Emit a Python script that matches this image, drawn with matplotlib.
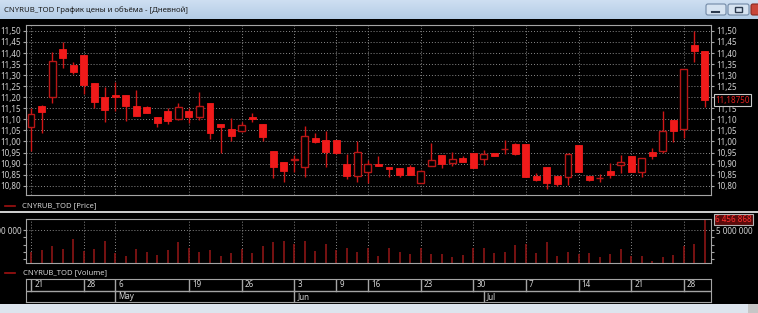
import matplotlib.pyplot as plt
import matplotlib.transforms as mtransforms
import numpy as np
from matplotlib.colors import LinearSegmentedColormap
from matplotlib.patches import FancyBboxPatch, Rectangle
from matplotlib.ticker import FixedLocator, FuncFormatter, MultipleLocator

plt.rcParams['font.family'] = ['Noto Sans', 'DejaVu Sans']

# дневные свечи CNYRUB_TOD
open_ = [11.067, 11.159, 11.200, 11.417, 11.346, 11.393, 11.265, 11.200, 11.209, 11.209,
         11.161, 11.155, 11.111, 11.140, 11.103, 11.140, 11.112, 11.173, 11.078, 11.058,
         11.049, 11.112, 11.078, 10.957, 10.909, 10.916, 10.886, 11.014, 11.007, 11.007,
         10.898, 10.845, 10.860, 10.897, 10.886, 10.879, 10.886, 10.814, 10.891, 10.939,
         10.904, 10.927, 10.949, 10.919, 10.946, 10.964, 10.989, 10.989, 10.844, 10.883,
         10.845, 10.841, 10.983, 10.845, 10.834, 10.867, 10.894, 10.934, 10.864, 10.953,
         10.959, 11.097, 11.057, 11.437, 11.411]
high = [11.150, 11.165, 11.406, 11.452, 11.358, 11.393, 11.265, 11.248, 11.268, 11.209,
        11.233, 11.161, 11.111, 11.150, 11.176, 11.150, 11.226, 11.173, 11.078, 11.105,
        11.088, 11.127, 11.078, 10.957, 10.909, 10.939, 11.070, 11.040, 11.047, 11.007,
        10.942, 11.004, 10.916, 10.934, 10.886, 10.879, 10.892, 10.871, 10.995, 10.939,
        10.951, 10.934, 10.949, 10.961, 10.949, 11.007, 10.992, 10.989, 10.856, 10.883,
        10.845, 10.946, 10.983, 10.845, 10.853, 10.901, 10.939, 10.934, 10.927, 10.969,
        11.138, 11.097, 11.327, 11.500, 11.411]
low = [10.955, 11.040, 11.173, 11.331, 11.304, 11.215, 11.153, 11.087, 11.136, 11.094,
       11.115, 11.127, 11.067, 11.079, 11.097, 11.085, 11.097, 11.013, 10.946, 11.000,
       11.041, 11.088, 11.000, 10.836, 10.818, 10.864, 10.841, 10.992, 10.886, 10.942,
       10.829, 10.818, 10.811, 10.891, 10.841, 10.838, 10.848, 10.811, 10.891, 10.879,
       10.891, 10.906, 10.879, 10.894, 10.934, 10.943, 10.939, 10.841, 10.823, 10.784,
       10.799, 10.803, 10.862, 10.821, 10.818, 10.833, 10.856, 10.864, 10.838, 10.919,
       10.950, 10.999, 11.014, 11.361, 11.155]
close = [11.123, 11.135, 11.366, 11.379, 11.316, 11.256, 11.179, 11.143, 11.200, 11.159,
         11.115, 11.130, 11.085, 11.094, 11.158, 11.112, 11.161, 11.037, 11.064, 11.025,
         11.073, 11.102, 11.022, 10.886, 10.868, 10.922, 11.026, 10.999, 10.954, 10.946,
         10.845, 10.954, 10.898, 10.891, 10.877, 10.848, 10.848, 10.868, 10.916, 10.898,
         10.919, 10.906, 10.879, 10.942, 10.934, 10.966, 10.942, 10.841, 10.826, 10.814,
         10.808, 10.944, 10.862, 10.824, 10.836, 10.848, 10.909, 10.864, 10.927, 10.936,
         11.049, 11.049, 11.327, 11.411, 11.1875]
volume = [1.95e6, 2.26e6, 2.81e6, 2.36e6, 3.77e6, 2.16e6, 2.44e6, 3.53e6, 1.81e6, 1.48e6,
          2.44e6, 2.03e6, 1.58e6, 2.26e6, 3.36e6, 2.49e6, 2.03e6, 2.22e6, 1.44e6, 1.85e6,
          2.44e6, 1.89e6, 2.85e6, 3.40e6, 3.45e6, 3.04e6, 3.45e6, 2.16e6, 3.08e6, 2.22e6,
          2.53e6, 1.99e6, 2.49e6, 1.48e6, 2.58e6, 1.99e6, 1.67e6, 2.53e6, 1.67e6, 1.67e6,
          1.34e6, 1.62e6, 2.49e6, 2.58e6, 1.85e6, 1.99e6, 2.95e6, 3.04e6, 1.85e6, 3.36e6,
          1.44e6, 2.03e6, 1.67e6, 1.85e6, 1.26e6, 1.71e6, 2.44e6, 1.44e6, 1.44e6, 0.79e6,
          1.30e6, 1.58e6, 2.81e6, 3.12e6, 6456868]

day_pos = [0, 5, 8, 15, 20, 25, 29, 32, 37, 42, 47, 52, 57, 62]
day_lbl = ['21', '28', '6', '19', '26', '3', '9', '16', '23', '30', '7', '14', '21', '28']
month_pos = [8, 25, 43]
month_lbl = ['May', 'Jun', 'Jul']

W, H = 758, 313
GRID = '#8a8a8a'
FRAME = '#a4a4a4'
TXT = '#d2d2d2'


def box(l, t, r, b):
    return [l / W, 1 - b / H, (r - l) / W, (b - t) / H]


def comma(v, p):
    return f"{v:.2f}".replace('.', ',')


def spaced(v, p):
    return f"{int(round(v)):,}".replace(',', ' ')


fig = plt.figure(figsize=(W / 100, H / 100), dpi=100, facecolor='black')

# окно: заголовок, кнопки, нижняя полоса
bg = fig.add_axes([0, 0, 1, 1], zorder=-1)
bg.set_xlim(0, W)
bg.set_ylim(H, 0)
bg.axis('off')
cmap = LinearSegmentedColormap.from_list('title', ['#cfe0f2', '#b4cce6'])
bg.imshow(np.linspace(0, 1, 20).reshape(-1, 1), extent=(0, W, 19.5, 0), aspect='auto', cmap=cmap)
bg.text(4, 10, 'CNYRUB_TOD График цены и объёма - [Дневной]', fontsize=5.6, va='center', color='#1c1c1c')
for bx, bw in [(706, 20), (728, 21)]:
    bg.add_patch(FancyBboxPatch((bx, 4), bw, 11, boxstyle='round,pad=0,rounding_size=2',
                                fc='#d6e3f1', ec='#7189a6', lw=0.8))
bg.plot([712, 719], [11.5, 11.5], color='#2b3a4e', lw=1.5)
bg.add_patch(Rectangle((735, 7), 7, 5, fc='none', ec='#2b3a4e', lw=1))
bg.add_patch(FancyBboxPatch((751, 4), 12, 11, boxstyle='round,pad=0,rounding_size=2',
                            fc='#c8463a', ec='#8a2a22', lw=0.8))
bg.add_patch(Rectangle((0, 304), W, 9, fc='#dde5ee', ec='none'))
bg.add_patch(Rectangle((748, 304), 10, 9, fc='#c6c6c6', ec='none'))
bg.plot([0, W], [211.7, 211.7], color='#e2e2e2', lw=1.3)
bg.plot([5, 15], [206, 206], color='#a01212', lw=1.2)
bg.text(22, 206, 'CNYRUB_TOD [Price]', fontsize=5.5, va='center', color=TXT)
bg.plot([5, 15], [272.5, 272.5], color='#a01212', lw=1.2)
bg.text(23, 272.5, 'CNYRUB_TOD [Volume]', fontsize=5.5, va='center', color=TXT)

x = np.arange(len(close))
o = np.array(open_)
c = np.array(close)
up = c >= o
body_lo = np.minimum(o, c)
body_h = np.maximum(np.abs(c - o), 0.002)
xlim = (-0.475, 64.58)

# цена
ax = fig.add_axes(box(26, 24.5, 711, 195))
ax.set_facecolor('black')
ax.vlines(x, low, high, color='#d01616', lw=1, zorder=2)
ax.bar(x[~up], body_h[~up], bottom=body_lo[~up], width=0.66, color='#f01a1a',
       edgecolor='#f01a1a', lw=0.6, zorder=3)
ax.bar(x[up], body_h[up], bottom=body_lo[up], width=0.66, color='black',
       edgecolor='#b81616', lw=1, zorder=3)
ax.set_xlim(*xlim)
ax.set_ylim(10.758, 11.529)
ax.yaxis.set_major_locator(MultipleLocator(0.05))
ax.yaxis.set_major_formatter(FuncFormatter(comma))
ax.set_xticks(day_pos)
ax.tick_params(axis='x', length=0, labelbottom=False)
ax.tick_params(axis='y', left=True, right=True, labelleft=True, labelright=True, direction='out',
               length=2.5, width=0.8, color=FRAME, labelcolor=TXT, labelsize=5.8, pad=1)
ax.grid(True, color=GRID, ls=(0, (1, 2)), lw=0.7)
ax.set_axisbelow(True)
for s in ax.spines.values():
    s.set_color(FRAME)
trans = mtransforms.blended_transform_factory(ax.transAxes, ax.transData)
ax.text(1.006, close[-1], f"{close[-1]:.5f}".replace('.', ','), transform=trans, fontsize=5.8,
        va='center', color='#e42020', zorder=10, clip_on=False,
        bbox=dict(boxstyle='square,pad=0.15', fc='black', ec='#c8c8c8', lw=0.8))

# объём
vx = fig.add_axes(box(26, 219, 711, 262.7))
vx.set_facecolor('black')
vx.vlines(x, 0, volume, color='#8c1515', lw=1.2)
vx.set_xlim(*xlim)
vx.set_ylim(0.52e6, 6.51e6)
vx.yaxis.set_major_locator(FixedLocator([5e6]))
vx.yaxis.set_minor_locator(FixedLocator([1e6, 2e6, 3e6, 4e6]))
vx.yaxis.set_major_formatter(FuncFormatter(spaced))
vx.set_xticks(day_pos)
vx.tick_params(axis='x', length=0, labelbottom=False)
vx.tick_params(axis='y', which='both', left=True, right=True, labelleft=True, labelright=True,
               direction='out', length=2.5, width=0.8, color=FRAME, labelcolor=TXT, labelsize=5.8, pad=1)
vx.grid(True, which='major', color=GRID, ls=(0, (1, 2)), lw=0.7)
vx.set_axisbelow(True)
for s in vx.spines.values():
    s.set_color(FRAME)
vtrans = mtransforms.blended_transform_factory(vx.transAxes, vx.transData)
vx.text(1.006, volume[-1], spaced(volume[-1], None), transform=vtrans, fontsize=5.8,
        va='center', color='#ff3030', zorder=10, clip_on=False,
        bbox=dict(boxstyle='square,pad=0.15', fc='#5a0a0a', ec='#b4b4b4', lw=0.8))

# шкала дат
dx = fig.add_axes(box(26, 279, 711, 302))
dx.set_facecolor('black')
dx.set_xlim(*xlim)
dx.set_ylim(0, 1)
dx.set_xticks([])
dx.set_yticks([])
for s in dx.spines.values():
    s.set_color(FRAME)
dx.axhline(0.48, color=FRAME, lw=1)
for p, lbl in zip(day_pos, day_lbl):
    dx.plot([p, p], [0.48, 1], color=FRAME, lw=1)
    dx.text(p + 0.3, 0.74, lbl, fontsize=5.8, va='center', color=TXT)
for p, lbl in zip(month_pos, month_lbl):
    dx.plot([p, p], [0, 0.48], color=FRAME, lw=1)
    dx.text(p + 0.3, 0.23, lbl, fontsize=5.8, va='center', color=TXT)

fig.savefig('out.png', dpi=100, facecolor='black')
